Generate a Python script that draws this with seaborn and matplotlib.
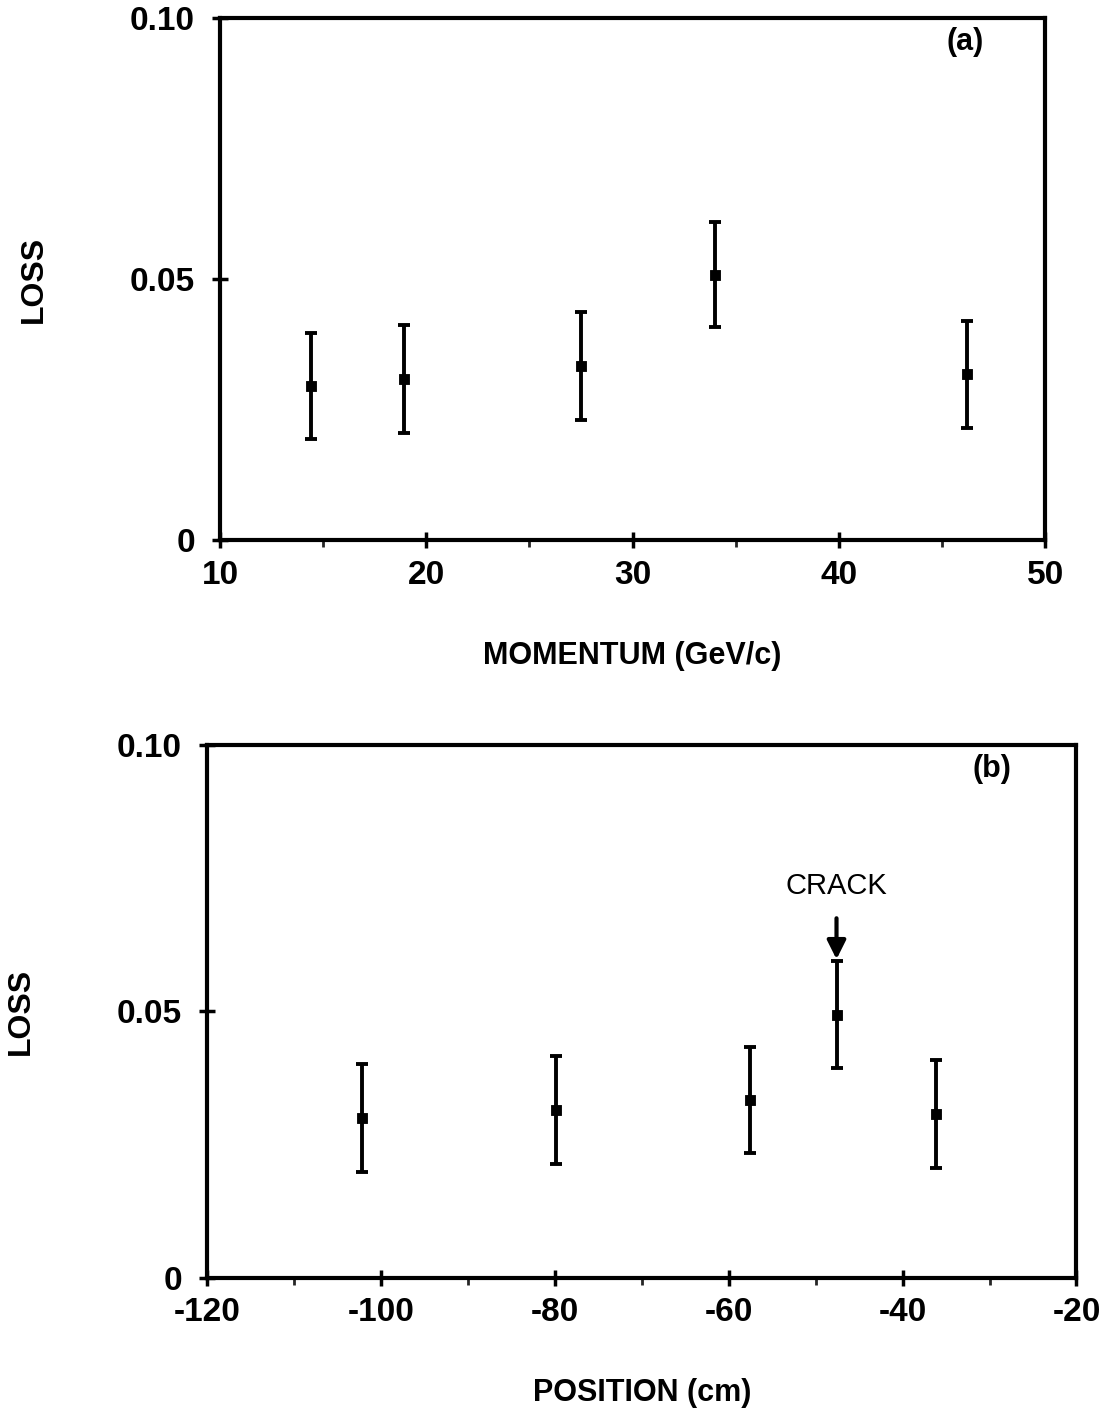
import seaborn as sns
import matplotlib.pyplot as plt
from matplotlib.ticker import MultipleLocator

# Panel (a): loss vs momentum
momentum = [14.4, 18.9, 27.5, 34.0, 46.2]
loss_a = [0.0296, 0.0309, 0.0334, 0.0509, 0.0318]
err_a = [0.0102, 0.0103, 0.0103, 0.0101, 0.0102]

# Panel (b): loss vs position
position = [-102.2, -79.9, -57.5, -47.6, -36.2]
loss_b = [0.0300, 0.0315, 0.0334, 0.0494, 0.0308]
err_b = [0.0101, 0.0102, 0.0100, 0.0101, 0.0101]

sns.set_theme(style="ticks")
plt.rcParams["font.family"] = ["Liberation Sans", "DejaVu Sans"]
plt.rcParams["text.color"] = "black"
plt.rcParams["axes.labelcolor"] = "black"
plt.rcParams["axes.unicode_minus"] = False

fig = plt.figure(figsize=(11.19, 14.11), dpi=100)
ax_a = fig.add_axes([0.1966, 0.617, 0.7374, 0.370])
ax_b = fig.add_axes([0.185, 0.0943, 0.777, 0.3777])


def draw_panel(ax, x, y, err, xlim, xticks, xlabel, tag):
    ax.errorbar(x, y, yerr=err, fmt="none", ecolor="black",
                elinewidth=2.8, capsize=4.5, capthick=2.8)
    sns.scatterplot(x=x, y=y, ax=ax, marker="s", s=60, color="black",
                    edgecolor="black", zorder=3)
    ax.set_xlim(*xlim)
    ax.set_ylim(0, 0.10)
    ax.set_xticks(xticks)
    ax.xaxis.set_minor_locator(MultipleLocator((xticks[1] - xticks[0]) / 2))
    ax.set_yticks([0, 0.05, 0.10])
    ax.set_yticklabels(["0", "0.05", "0.10"])
    ax.tick_params(axis="both", which="major", direction="inout", length=12,
                   width=2.5, labelsize=24, colors="black")
    ax.tick_params(axis="x", which="major", pad=8)
    ax.tick_params(axis="y", which="major", pad=12)
    ax.tick_params(axis="x", which="minor", direction="out", length=5, width=2)
    for lbl in ax.get_xticklabels() + ax.get_yticklabels():
        lbl.set_fontweight("bold")
    for s in ax.spines.values():
        s.set_linewidth(3)
        s.set_color("black")
    ax.set_xlabel(xlabel, fontsize=22, fontweight="bold", labelpad=36)
    ax.set_ylabel("LOSS", fontsize=23, fontweight="bold", labelpad=58)
    ax.text(0.903, 0.955, tag, transform=ax.transAxes, fontsize=22,
            fontweight="bold", ha="center", va="center")


draw_panel(ax_a, momentum, loss_a, err_a, (10, 50), [10, 20, 30, 40, 50],
           "MOMENTUM (GeV/c)", "(a)")
draw_panel(ax_b, position, loss_b, err_b, (-120, -20),
           [-120, -100, -80, -60, -40, -20], "POSITION (cm)", "(b)")

# crack marker in panel (b)
ax_b.annotate("CRACK", xy=(position[3], 0.0598), xytext=(position[3], 0.0736),
              ha="center", va="center", fontsize=21,
              arrowprops=dict(arrowstyle="-|>", color="black", lw=3,
                              mutation_scale=28, shrinkA=11, shrinkB=0))

fig.savefig("out.png", dpi=100, facecolor="white")
